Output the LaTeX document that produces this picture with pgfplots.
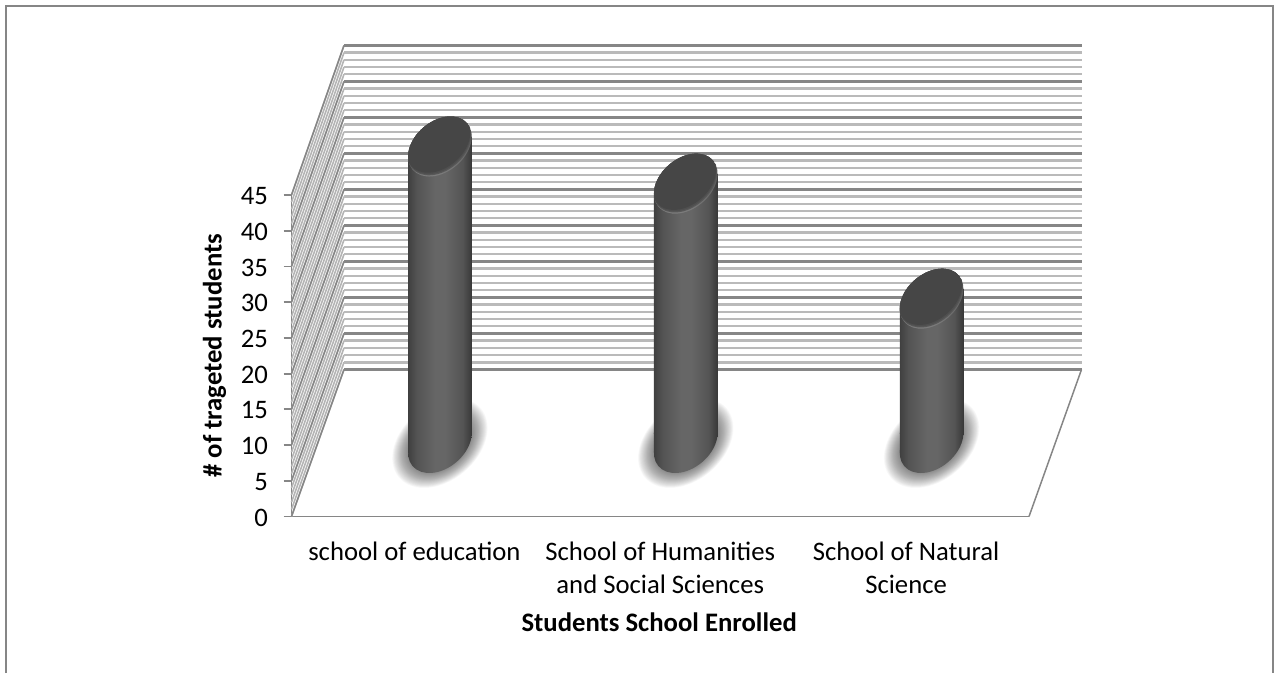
\documentclass[border=0pt]{standalone}
\usepackage{fontspec}
\setmainfont{Carlito}
\usepackage{pgfplots}
\pgfplotsset{compat=1.18}

\definecolor{axisgray}{HTML}{868686}
\definecolor{minorgray}{HTML}{BABABA}
\definecolor{sidegray}{HTML}{B4B4B4}
\definecolor{lidrim}{HTML}{7E7E7E}
\definecolor{lidmid}{HTML}{585858}
\definecolor{liddark}{HTML}{464646}

% side shading of the cylinders; the path box spans 25bp to 75bp
\pgfdeclarehorizontalshading{cyl}{100bp}{
  color(0bp)=(black!75);
  color(25bp)=(black!75);
  color(32bp)=(black!67);
  color(46bp)=(black!60);
  color(54bp)=(black!60);
  color(68bp)=(black!67);
  color(75bp)=(black!78);
  color(100bp)=(black!78)}

% depth of the floor and half of it, where the cylinders stand
\tikzset{
  back/.style={shift={(52.5pt,147pt)}},
  mid/.style={shift={(25.5pt,73.5pt)}},
  floordisc/.style={x radius={1.1923*#1 pt},y radius={0.8387*#1 pt},rotate=40}
}

\newcommand{\cylinder}[2]{%
  % soft shadow on the floor, then the foot of the cylinder
  \pgfplotsextra{%
    \foreach \r in {30,30.5,...,45}{
      \fill[black,opacity=0.018] ([mid]axis cs:#1,0) circle [floordisc=\r];
    }
    \begin{scope}
      \clip ([mid]axis cs:#1,0) circle [floordisc=30];
      \shade[shading=cyl] ([mid]axis cs:#1,0) ++(-31.8pt,-33pt) rectangle ++(63.6pt,66pt);
    \end{scope}
    \begin{scope}
      \clip ([mid,shift={(-31.8pt,-10pt)}]axis cs:#1,0) -- ([mid,shift={(-31.8pt,10.5pt)}]axis cs:#1,0)
            -- ([mid,shift={(31.8pt,10.5pt)}]axis cs:#1,0) -- ([mid,shift={(31.8pt,10pt)}]axis cs:#1,0) -- cycle;
      \shade[shading=cyl] ([mid]axis cs:#1,0) ++(-31.8pt,-12pt) rectangle ++(63.6pt,24pt);
    \end{scope}
  }
  % the straight part runs between the two slanted ends of the discs
  \addplot[ybar,bar shift=0pt,bar width=63.6pt,draw=none,shade,shading=cyl,
           xshift=25.5pt,yshift=83.5pt,y filter/.expression={y-20/7.144}] coordinates {(#1,#2)};
  % lid with its lit lower rim
  \pgfplotsextra{%
    \begin{scope}
      \clip ([mid,shift={(-31.8pt,-10.5pt)}]axis cs:#1,#2) -- ([mid,shift={(31.8pt,-10.5pt)}]axis cs:#1,#2)
            -- ([mid,shift={(31.8pt,10pt)}]axis cs:#1,#2) -- ([mid,shift={(-31.8pt,-10pt)}]axis cs:#1,#2) -- cycle;
      \shade[shading=cyl] ([mid]axis cs:#1,#2) ++(-31.8pt,-12pt) rectangle ++(63.6pt,24pt);
    \end{scope}
    \begin{scope}
      \clip ([mid]axis cs:#1,#2) circle [floordisc=30];
      \shade[top color=liddark,bottom color=lidrim] ([mid]axis cs:#1,#2) ++(-33pt,-31pt) rectangle ++(66pt,62pt);
      \fill[lidmid] ([mid,shift={(-0.5pt,1.2pt)}]axis cs:#1,#2) circle [floordisc=30];
      \fill[liddark!50!lidmid] ([mid,shift={(-1pt,2.4pt)}]axis cs:#1,#2) circle [floordisc=30];
      \fill[liddark] ([mid,shift={(-1.5pt,3.8pt)}]axis cs:#1,#2) circle [floordisc=30];
    \end{scope}
  }
}

\begin{document}
\begin{tikzpicture}
\useasboundingbox (0,0) rectangle (1276pt,673pt);
% chart frame, open at the lower edge
\draw[axisgray,line width=2pt] (6pt,0pt) -- (6pt,667pt) -- (1273pt,667pt) -- (1273pt,0pt);
\begin{axis}[
  at={(291.5pt,156.5pt)},anchor=south west,
  scale only axis,width=737.5pt,height=321.5pt,
  xmin=-0.5,xmax=2.5,ymin=0,ymax=45,
  clip=false,
  axis x line*=bottom,axis y line*=left,
  axis line style={axisgray,line width=1.8pt,-},
  xtick={0,1,2},
  xticklabels={school of education,{School of Humanities\\and Social Sciences},{School of Natural\\Science}},
  xtick style={draw=none},
  ytick={0,5,...,45},
  ytick style={axisgray,line width=1.8pt},
  tick align=outside,
  major tick length=8pt,
  /pgf/number format/assume math mode=true,
  ticklabel style={font=\fontsize{26.7}{32.5}\selectfont,text=black},
  xticklabel style={align=center,yshift=-14pt},
  yticklabel style={xshift=-12pt,yshift=-1pt},
  xlabel={\textbf{Students School Enrolled}},
  ylabel={\textbf{\# of trageted students}},
  label style={font=\fontsize{26.7}{32}\selectfont},
  xlabel style={at={(axis description cs:0.4985,-0.33)},anchor=center},
  ylabel style={at={(axis description cs:-0.1045,0.5)},anchor=center},
]
% wall gridlines: one per unit, heavier every five
\pgfplotsinvokeforeach{0,...,45}{
  \draw[sidegray,line width=1.6pt] (axis cs:-0.5,#1) -- ([back]axis cs:-0.5,{#1*1.008});
  \draw[minorgray,line width=2.4pt] ([back]axis cs:-0.5,{#1*1.008}) -- ([back]axis cs:2.5,{#1*1.008});
}
\pgfplotsinvokeforeach{0,5,...,45}{
  \draw[axisgray,line width=1.5pt] (axis cs:-0.5,#1) -- ([back]axis cs:-0.5,{#1*1.008});
  \draw[axisgray,line width=2.2pt] ([back]axis cs:-0.5,{#1*1.008}) -- ([back]axis cs:2.5,{#1*1.008});
}
% right edge of the floor
\draw[axisgray,line width=1.5pt] (axis cs:2.5,0) -- ([back]axis cs:2.5,0);

\cylinder{0}{41.5}
\cylinder{1}{36.3}
\cylinder{2}{20.2}
\end{axis}
\end{tikzpicture}
\end{document}
